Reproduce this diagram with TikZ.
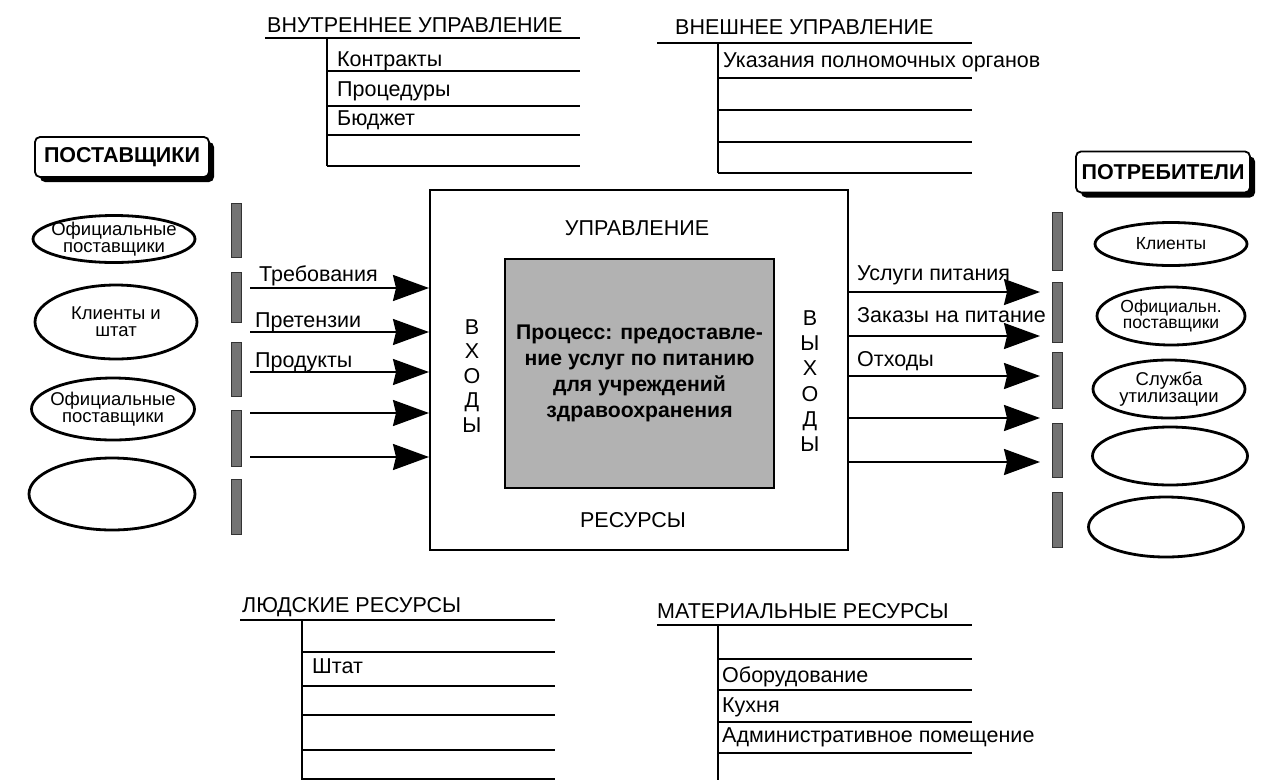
\documentclass[tikz,border=0pt]{standalone}
\usepackage{fontspec}
\setmainfont{Liberation Sans}
\usetikzlibrary{arrows.meta,shapes.geometric,shadows}

\tikzset{
  txt/.style={font=\fontsize{21.5}{24}\selectfont, inner sep=0pt, anchor=base west},
  hdr/.style={font=\fontsize{21.5}{24}\selectfont, inner sep=0pt, anchor=base west},
  tabline/.style={line width=1.7pt},
  gbar/.style={rectangle, draw=black!80, line width=0.8pt, fill=black!55, minimum width=10pt, inner sep=0pt},
  oval/.style={ellipse, draw, line width=2.8pt, inner sep=0pt},
  etxt/.style={align=center, inner sep=0pt, font=\fontsize{18.5}{17}\selectfont},
  flow/.style={line width=2.2pt, -{Stealth[length=36pt,width=26pt,inset=3pt]}},
  tagbox/.style={draw, line width=1.8pt, rounded corners=5pt, fill=white, inner sep=0pt,
    font=\bfseries\fontsize{21.5}{24}\selectfont,
    drop shadow={shadow xshift=5pt, shadow yshift=-5pt, fill=black, opacity=1}},
  vert/.style={align=center, inner sep=0pt, font=\fontsize{21.5}{24.5}\selectfont},
}

\begin{document}
\begin{tikzpicture}[x=1pt,y=-1pt]
\useasboundingbox[fill=white] (0,0) rectangle (1273,782);

% ---------- internal control ----------
\node[hdr] (tin) at (267,32) {ВНУТРЕННЕЕ УПРАВЛЕНИЕ};
\draw[tabline] (265,38) -- (580,38);
\draw[tabline] (327,38) -- (327,166);
\foreach \y in {71,106,135,166} \draw[tabline] (327,\y) -- (580,\y);
\node[txt] (c1) at (337,66) {Контракты};
\node[txt] (c2) at (337,96) {Процедуры};
\node[txt] (c3) at (337,125) {Бюджет};

% ---------- external control ----------
\node[hdr] (tex) at (675,34) {ВНЕШНЕЕ УПРАВЛЕНИЕ};
\draw[tabline] (657,43) -- (972,43);
\draw[tabline] (718,43) -- (718,173);
\foreach \y in {78,110,142,173} \draw[tabline] (718,\y) -- (972,\y);
\node[txt] (e1) at (723,67) {Указания полномочных органов};

% ---------- human resources ----------
\node[hdr] (thr) at (242,612) {ЛЮДСКИЕ РЕСУРСЫ};
\draw[tabline] (240,620) -- (555,620);
\draw[tabline] (302,620) -- (302,780);
\foreach \y in {652,686,715,750,779} \draw[tabline] (302,\y) -- (555,\y);
\node[txt] (h1) at (312,673) {Штат};

% ---------- material resources ----------
\node[hdr] (tmr) at (657,618) {МАТЕРИАЛЬНЫЕ РЕСУРСЫ};
\draw[tabline] (657,625) -- (972,625);
\draw[tabline] (718,625) -- (718,780);
\foreach \y in {659,690,722,753} \draw[tabline] (718,\y) -- (972,\y);
\node[txt] (m1) at (722,682) {Оборудование};
\node[txt] (m2) at (722,712) {Кухня};
\node[txt] (m3) at (722,742) {Административное помещение};

% ---------- process box ----------
\node[draw, line width=2pt, minimum width=418pt, minimum height=360pt, inner sep=0pt] (sys) at (639,370) {};
\node[draw, line width=2pt, fill=black!30, minimum width=269pt, minimum height=229pt,
      align=center, inner sep=0pt, font=\bfseries\fontsize{21.2}{26}\selectfont] (proc) at (639.5,373.5)
  {Процесс: предоставле-\\ние услуг по питанию\\для учреждений\\здравоохранения};
\node[font=\fontsize{21.5}{24}\selectfont, inner sep=0pt] (upr) at (637,228) {УПРАВЛЕНИЕ};
\node[font=\fontsize{21.5}{24}\selectfont, inner sep=0pt] (res) at (633,520) {РЕСУРСЫ};
\node[vert] (vin) at (472,376) {В\\Х\\О\\Д\\Ы};
\node[vert, font=\fontsize{21.5}{25.2}\selectfont] (vout) at (810,381) {В\\Ы\\Х\\О\\Д\\Ы};

% ---------- suppliers ----------
\node[tagbox, minimum width=174pt, minimum height=40pt] (sup) at (122,157) {ПОСТАВЩИКИ};
\node[oval, minimum width=162pt, minimum height=47pt, label={[etxt]center:Официальные\\поставщики}] (s1) at (114,239) {};
\node[oval, minimum width=162pt, minimum height=74pt, label={[etxt]center:Клиенты и\\штат}] (s2) at (116,322) {};
\node[oval, minimum width=163pt, minimum height=62pt, label={[etxt]center:Официальные\\поставщики}] (s3) at (113,409) {};
\node[oval, minimum width=166pt, minimum height=72pt] (s4) at (112,494) {};

\node[gbar, minimum height=54pt] (bl1) at (236,230) {};
\node[gbar, minimum height=50pt] (bl2) at (236,297) {};
\node[gbar, minimum height=54pt] (bl3) at (236,369) {};
\node[gbar, minimum height=56pt] (bl4) at (236,438) {};
\node[gbar, minimum height=55pt] (bl5) at (236,507) {};

% input flows
\coordinate (i1) at (250,288);
\coordinate (i2) at (250,332);
\coordinate (i3) at (250,372);
\coordinate (i4) at (250,413);
\coordinate (i5) at (250,457);
\foreach \c in {i1,i2,i3,i4,i5} \draw[flow] (\c) -- (\c -| sys.west);
\node[txt] (l1) at (259,281) {Требования};
\node[txt] (l2) at (255,327) {Претензии};
\node[txt] (l3) at (255,367) {Продукты};

% ---------- consumers ----------
\node[tagbox, minimum width=174pt, minimum height=41pt] (con) at (1163,172) {ПОТРЕБИТЕЛИ};
\node[oval, minimum width=152pt, minimum height=43pt, label={[etxt, font=\fontsize{17.5}{17}\selectfont]center:Клиенты}] (k1) at (1171,244) {};
\node[oval, minimum width=148pt, minimum height=58pt, label={[etxt, font=\fontsize{17.5}{16}\selectfont]center:Официальн.\\поставщики}] (k2) at (1171,316) {};
\node[oval, minimum width=152pt, minimum height=58pt, label={[etxt, font=\fontsize{18.5}{17}\selectfont]center:Служба\\утилизации}] (k3) at (1169,389) {};
\node[oval, minimum width=155pt, minimum height=58pt] (k4) at (1170,456) {};
\node[oval, minimum width=155pt, minimum height=60pt] (k5) at (1166,527) {};

\node[gbar, minimum height=58pt] (br1) at (1057,241) {};
\node[gbar, minimum height=60pt] (br2) at (1057,312) {};
\node[gbar, minimum height=56pt] (br3) at (1057,380) {};
\node[gbar, minimum height=54pt] (br4) at (1057,450) {};
\node[gbar, minimum height=55pt] (br5) at (1057,520) {};

% output flows
\coordinate (o1) at (1040,292);
\coordinate (o2) at (1040,336);
\coordinate (o3) at (1040,376);
\coordinate (o4) at (1040,418);
\coordinate (o5) at (1040,462);
\foreach \c in {o1,o2,o3,o4,o5} \draw[flow] (\c -| sys.east) -- (\c);
\node[txt] (r1) at (857,280) {Услуги питания};
\node[txt] (r2) at (857,322) {Заказы на питание};
\node[txt] (r3) at (857,366) {Отходы};
\end{tikzpicture}
\end{document}
